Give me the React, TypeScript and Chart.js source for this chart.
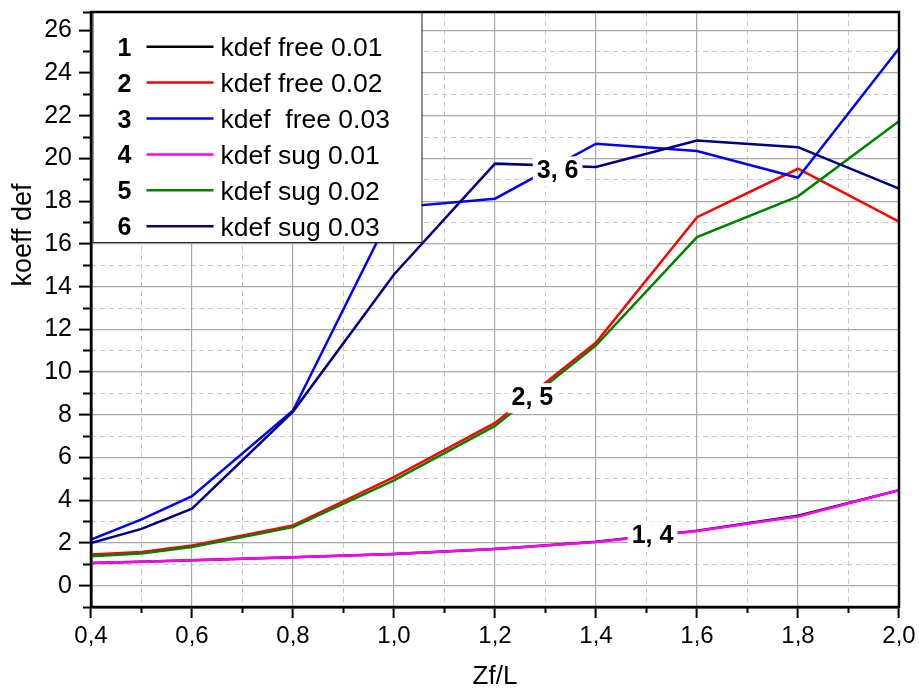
import React, { useEffect, useRef } from "react";
import { Chart, registerables } from "chart.js";

Chart.register(...registerables);

const FONT = "'Liberation Sans', Arial, sans-serif";

// ---- data ----
const xValues = [0.4, 0.5, 0.6, 0.8, 1.0, 1.2, 1.4, 1.6, 1.8, 2.0];
const free001 = [1.06, 1.12, 1.19, 1.33, 1.48, 1.72, 2.05, 2.57, 3.27, 4.47];
const free002 = [1.46, 1.58, 1.88, 2.82, 5.08, 7.62, 11.38, 17.25, 19.52, 17.04];
const free003 = [2.16, 3.1, 4.19, 8.2, 17.7, 18.12, 20.69, 20.35, 19.1, 25.15];
const sug001 = [1.06, 1.12, 1.19, 1.33, 1.48, 1.72, 2.04, 2.56, 3.24, 4.47];
const sug002 = [1.38, 1.5, 1.81, 2.74, 4.93, 7.48, 11.25, 16.32, 18.23, 21.75];
const sug003 = [2.0, 2.66, 3.6, 8.15, 14.57, 19.76, 19.6, 20.84, 20.53, 18.59];

const seriesValues = [free001, free002, free003, sug001, sug002, sug003];
const seriesNames = [
  "kdef free 0.01",
  "kdef free 0.02",
  "kdef  free 0.03",
  "kdef sug 0.01",
  "kdef sug 0.02",
  "kdef sug 0.03",
];
const seriesNumbers = ["1", "2", "3", "4", "5", "6"];
const seriesColors = ["#000000", "#ff0000", "#0000ff", "#ff00ff", "#008000", "#000080"];
const seriesOrder = [5, 4, 3, 2, 1, 0];

const xMin = 0.4;
const xMax = 2.0;
const yMin = -1;
const yMax = 26.86;
const xTickValues = [0.4, 0.6, 0.8, 1.0, 1.2, 1.4, 1.6, 1.8, 2.0];
const xMinorTickValues = [0.5, 0.7, 0.9, 1.1, 1.3, 1.5, 1.7, 1.9];
const yTickValues = [0, 2, 4, 6, 8, 10, 12, 14, 16, 18, 20, 22, 24, 26];
const yMinorTickValues = [-1, 1, 3, 5, 7, 9, 11, 13, 15, 17, 19, 21, 23, 25, 26.86];

const curveLabelTexts = ["1, 4", "2, 5", "3, 6"];
const curveLabelX = [1.512, 1.274, 1.324];
const curveLabelY = [1.98, 8.45, 19.07];

const xTitle = "Zf/L";
const yTitle = "koeff def";

const overlayPlugin = {
  id: "overlay",
  afterDatasetsDraw(chart: any) {
    const { ctx, chartArea, scales } = chart;
    const xs = scales.x;
    const ys = scales.y;
    ctx.save();

    // inline curve labels with white background
    ctx.font = `bold 25px ${FONT}`;
    ctx.textAlign = "center";
    ctx.textBaseline = "alphabetic";
    curveLabelTexts.forEach((t, i) => {
      const px = xs.getPixelForValue(curveLabelX[i]);
      const py = ys.getPixelForValue(curveLabelY[i]);
      const w = ctx.measureText(t).width;
      ctx.fillStyle = "#ffffff";
      ctx.fillRect(px - w / 2 - 4, py - 22, w + 8, 30);
      ctx.fillStyle = "#000000";
      ctx.fillText(t, px, py);
    });

    // legend box
    const lx = chartArea.left + 1.5;
    const ly = chartArea.top;
    const lw = 329;
    const lh = 230;
    ctx.fillStyle = "#ffffff";
    ctx.fillRect(lx, ly, lw, lh);
    ctx.strokeStyle = "#222222";
    ctx.lineWidth = 1;
    ctx.strokeRect(lx + 0.5, ly + 0.5, lw, lh);

    const rowStart = ly + 34.7;
    const rowStep = 35.9;
    seriesNames.forEach((name, i) => {
      const cy = rowStart + i * rowStep;
      ctx.font = `bold 25px ${FONT}`;
      ctx.textAlign = "center";
      ctx.fillStyle = "#000000";
      ctx.fillText(seriesNumbers[i], lx + 32, cy + 9);
      ctx.strokeStyle = seriesColors[i];
      ctx.lineWidth = 2.5;
      ctx.beginPath();
      ctx.moveTo(lx + 54, cy);
      ctx.lineTo(lx + 121, cy);
      ctx.stroke();
      ctx.font = `26.5px ${FONT}`;
      ctx.textAlign = "left";
      ctx.fillStyle = "#000000";
      ctx.fillText(name, lx + 128, cy + 9.5);
    });

    // frame
    ctx.strokeStyle = "#000000";
    ctx.lineWidth = 2.5;
    ctx.strokeRect(
      chartArea.left,
      chartArea.top,
      chartArea.right - chartArea.left,
      chartArea.bottom - chartArea.top
    );
    ctx.restore();
  },
  afterDraw(chart: any) {
    const { ctx } = chart;
    ctx.save();
    ctx.translate(24, 235);
    ctx.rotate(-Math.PI / 2);
    ctx.font = `27px ${FONT}`;
    ctx.fillStyle = "#000000";
    ctx.textAlign = "center";
    ctx.textBaseline = "middle";
    ctx.fillText(yTitle, 0, 0);
    ctx.restore();
  },
};

const isEdge = (v: number, lo: number, hi: number) =>
  Math.abs(v - lo) < 1e-6 || Math.abs(v - hi) < 1e-6;

export default function App() {
  const ref = useRef<HTMLCanvasElement>(null);

  useEffect(() => {
    if (!ref.current) return;
    const datasets = seriesValues.map((vals, i) => ({
      label: seriesNames[i],
      data: xValues.map((x, j) => ({ x, y: vals[j] })),
      borderColor: seriesColors[i],
      backgroundColor: seriesColors[i],
      borderWidth: 2.5,
      pointRadius: 0,
      tension: 0,
      fill: false,
      order: seriesOrder[i],
      xAxisID: "x",
      yAxisID: "y",
    }));

    const chart = new Chart(ref.current, {
      type: "line",
      data: { datasets },
      plugins: [overlayPlugin],
      options: {
        animation: false,
        responsive: false,
        devicePixelRatio: 1,
        layout: { padding: { left: 0, top: 12, right: 20, bottom: 0 } },
        plugins: { legend: { display: false }, tooltip: { enabled: false } },
        scales: {
          xMinor: {
            type: "linear",
            axis: "x",
            min: xMin,
            max: xMax,
            position: { y: yMin } as any,
            afterBuildTicks: (s: any) => {
              s.ticks = xMinorTickValues.map((v) => ({ value: v }));
            },
            afterFit: (s: any) => {
              s.paddingLeft = 0;
              s.paddingRight = 0;
              s.paddingTop = 0;
              s.paddingBottom = 0;
            },
            ticks: { display: false },
            grid: {
              color: "#c8c8c8",
              lineWidth: 1,
              tickLength: 6,
              tickColor: "#000000",
              tickWidth: 2,
            },
            border: { display: false, dash: [5, 4] },
          },
          yMinor: {
            type: "linear",
            axis: "y",
            min: yMin,
            max: yMax,
            position: { x: xMin } as any,
            afterBuildTicks: (s: any) => {
              s.ticks = yMinorTickValues.map((v) => ({ value: v }));
            },
            afterFit: (s: any) => {
              s.paddingLeft = 0;
              s.paddingRight = 0;
              s.paddingTop = 0;
              s.paddingBottom = 0;
            },
            ticks: { display: false },
            grid: {
              color: (c: any) =>
                c.tick && isEdge(c.tick.value, yMin, yMax) ? "rgba(0,0,0,0)" : "#c8c8c8",
              lineWidth: 1,
              tickLength: 8,
              tickColor: "#000000",
              tickWidth: 2,
            },
            border: { display: false, dash: [5, 4] },
          },
          x: {
            type: "linear",
            min: xMin,
            max: xMax,
            position: "bottom",
            afterBuildTicks: (s: any) => {
              s.ticks = xTickValues.map((v) => ({ value: v }));
            },
            afterFit: (s: any) => {
              s.height = 86;
              s.paddingLeft = 0;
              s.paddingRight = 0;
            },
            ticks: {
              autoSkip: false,
              maxRotation: 0,
              color: "#000000",
              padding: 4,
              font: { family: FONT, size: 24 },
              callback: (v: any) => Number(v).toFixed(1).replace(".", ","),
            },
            grid: {
              color: "#a8a8a8",
              lineWidth: 1.2,
              tickLength: 11,
              tickColor: "#000000",
              tickWidth: 2,
            },
            border: { color: "#000000", width: 2.5 },
            title: {
              display: true,
              text: xTitle,
              color: "#000000",
              font: { family: FONT, size: 26 },
              padding: { top: 0, bottom: 1 },
            },
          },
          y: {
            type: "linear",
            min: yMin,
            max: yMax,
            position: "left",
            afterBuildTicks: (s: any) => {
              s.ticks = yTickValues.map((v) => ({ value: v }));
            },
            afterFit: (s: any) => {
              s.width = 91;
              s.paddingTop = 0;
              s.paddingBottom = 0;
            },
            ticks: {
              autoSkip: false,
              color: "#000000",
              padding: 7,
              font: { family: FONT, size: 25 },
              callback: (v: any) => String(v),
            },
            grid: {
              color: "#a8a8a8",
              lineWidth: 1.2,
              tickLength: 12,
              tickColor: "#000000",
              tickWidth: 2,
            },
            border: { color: "#000000", width: 2.5 },
          },
        },
      } as any,
    });
    return () => chart.destroy();
  }, []);

  return (
    <div
      style={{
        position: "absolute",
        left: 0,
        top: 0,
        width: 919,
        height: 693,
        background: "#ffffff",
      }}
    >
      <canvas ref={ref} width={919} height={693} style={{ display: "block" }} />
    </div>
  );
}
